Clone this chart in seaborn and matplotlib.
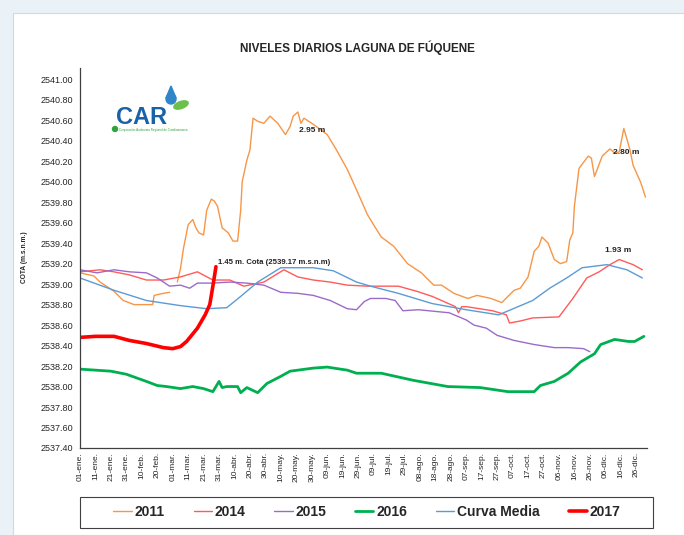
import numpy as np
import pandas as pd
import matplotlib
matplotlib.use("Agg")
import matplotlib.pyplot as plt
from matplotlib import font_manager
from matplotlib.lines import Line2D
from matplotlib.patches import Rectangle, Ellipse, Polygon
import seaborn as sns

# Data (day of year -> level in m.s.n.m.) =========================================
days_2011 = [0, 9, 13, 22, 28, 35, 41, 47, 48, 54, 58, 60, 63, 65, 67, 70, 73, 75, 77, 80,
             82, 85, 87, 89, 92, 96, 99, 102, 104, 105, 108, 110, 112, 115, 119, 123, 128,
             133, 136, 138, 141, 143, 145, 147, 151, 160, 166, 173, 179, 186, 190, 195, 203,
             212, 221, 229, 234, 242, 251, 257, 266, 273, 281, 285, 290, 294, 297, 299, 303,
             307, 311, 315, 317, 319, 320, 323, 329, 331, 333, 338, 343, 346, 349, 352, 356,
             358, 363, 366]
cota_2011 = [2539.11, 2539.08, 2539.02, 2538.93, 2538.84, 2538.80, 2538.80, 2538.80, 2538.89,
             2538.91, 2538.92, np.nan, 2539.02, 2539.15, 2539.35, 2539.58, 2539.63, 2539.55,
             2539.50, 2539.48, 2539.72, 2539.83, 2539.81, 2539.76, 2539.55, 2539.50, 2539.42,
             2539.42, 2539.72, 2540.00, 2540.21, 2540.31, 2540.62, 2540.59, 2540.57, 2540.64,
             2540.57, 2540.46, 2540.54, 2540.64, 2540.68, 2540.57, 2540.62, 2540.60, 2540.56,
             2540.46, 2540.31, 2540.12, 2539.92, 2539.68, 2539.58, 2539.46, 2539.37, 2539.20,
             2539.11, 2538.99, 2538.99, 2538.91, 2538.86, 2538.89, 2538.86, 2538.82, 2538.94,
             2538.96, 2539.07, 2539.32, 2539.37, 2539.46, 2539.40, 2539.24, 2539.20, 2539.22,
             2539.43, 2539.50, 2539.76, 2540.13, 2540.25, 2540.23, 2540.05, 2540.25, 2540.32,
             2540.28, 2540.29, 2540.52, 2540.31, 2540.16, 2539.99, 2539.85]

days_2014 = [0, 13, 22, 32, 43, 54, 65, 76, 86, 97, 106, 119, 132, 141, 151, 162, 173, 186,
             206, 218, 228, 243, 245, 247, 250, 267, 276, 278, 285, 293, 310, 319, 328, 336,
             343, 349, 358, 364]
cota_2014 = [2539.12, 2539.14, 2539.12, 2539.09, 2539.04, 2539.04, 2539.07, 2539.12, 2539.04,
             2539.04, 2538.98, 2539.02, 2539.14, 2539.07, 2539.04, 2539.02, 2538.99, 2538.98,
             2538.98, 2538.93, 2538.88, 2538.78, 2538.72, 2538.78, 2538.78, 2538.74, 2538.70,
             2538.62, 2538.64, 2538.67, 2538.68, 2538.86, 2539.06, 2539.12, 2539.19, 2539.24,
             2539.19, 2539.14]

days_2015 = [0, 11, 22, 32, 43, 50, 58, 65, 71, 76, 86, 97, 108, 119, 130, 141, 151, 162,
             173, 179, 184, 188, 198, 204, 209, 219, 239, 250, 255, 263, 270, 281, 294, 307,
             316, 326, 330]
cota_2015 = [2539.14, 2539.11, 2539.14, 2539.12, 2539.11, 2539.06, 2538.98, 2538.99, 2538.96,
             2539.01, 2539.01, 2539.02, 2539.01, 2538.99, 2538.92, 2538.91, 2538.89, 2538.84,
             2538.76, 2538.75, 2538.83, 2538.86, 2538.86, 2538.84, 2538.74, 2538.75, 2538.72,
             2538.65, 2538.60, 2538.57, 2538.50, 2538.45, 2538.41, 2538.38, 2538.38, 2538.37,
             2538.34]

days_2016 = [0, 10, 20, 30, 43, 50, 56, 65, 73, 80, 86, 90, 92, 95, 102, 104, 108, 115, 121,
             130, 136, 151, 160, 173, 179, 195, 216, 238, 259, 277, 294, 298, 307, 316, 324,
             333, 337, 346, 355, 359, 365]
cota_2016 = [2538.17, 2538.16, 2538.15, 2538.12, 2538.05, 2538.01, 2538.00, 2537.98, 2538.00,
             2537.98, 2537.95, 2538.05, 2537.99, 2538.00, 2538.00, 2537.94, 2537.99, 2537.94,
             2538.03, 2538.10, 2538.15, 2538.18, 2538.19, 2538.16, 2538.13, 2538.13, 2538.06,
             2538.00, 2537.99, 2537.95, 2537.95, 2538.01, 2538.05, 2538.13, 2538.24, 2538.32,
             2538.41, 2538.46, 2538.44, 2538.44, 2538.49]

days_media = [0, 22, 43, 65, 82, 95, 104, 115, 130, 151, 164, 179, 188, 206, 228, 250, 271,
              293, 304, 315, 325, 341, 354, 364]
cota_media = [2539.06, 2538.94, 2538.84, 2538.79, 2538.76, 2538.77, 2538.88, 2539.02, 2539.16,
              2539.16, 2539.13, 2539.02, 2538.98, 2538.91, 2538.81, 2538.75, 2538.70, 2538.84,
              2538.96, 2539.06, 2539.16, 2539.19, 2539.14, 2539.06]

days_2017 = [0, 10, 22, 32, 43, 54, 60, 65, 69, 76, 81, 84, 86, 88]
cota_2017 = [2538.48, 2538.49, 2538.49, 2538.45, 2538.42, 2538.38, 2538.37, 2538.39, 2538.44,
             2538.57, 2538.70, 2538.80, 2538.98, 2539.17]

tick_days = list(range(0, 361, 10))
tick_labels = ["01-ene.", "11-ene.", "21-ene.", "31-ene.", "10-feb.", "20-feb.", "01-mar.",
               "11-mar.", "21-mar.", "31-mar.", "10-abr.", "20-abr.", "30-abr.", "10-may.",
               "20-may.", "30-may.", "09-jun.", "19-jun.", "29-jun.", "09-jul.", "19-jul.",
               "29-jul.", "08-ago.", "18-ago.", "28-ago.", "07-sep.", "17-sep.", "27-sep.",
               "07-oct.", "17-oct.", "27-oct.", "06-nov.", "16-nov.", "26-nov.", "06-dic.",
               "16-dic.", "26-dic."]
y_ticks = [round(2537.4 + 0.2 * i, 2) for i in range(19)]

# series: name, days, values, colour, linewidth
series = [
    ("2011", days_2011, cota_2011, "#F79646", 1.0),
    ("2014", days_2014, cota_2014, "#FF5B5B", 1.0),
    ("2015", days_2015, cota_2015, "#9B6BC9", 1.0),
    ("2016", days_2016, cota_2016, "#00B050", 2.0),
    ("Curva Media", days_media, cota_media, "#5B9BD5", 1.0),
    ("2017", days_2017, cota_2017, "#FF0000", 2.6),
]

# Style ===========================================================================
sns.set_style("white")
avail = {f.name for f in font_manager.fontManager.ttflist}
narrow = "Liberation Sans Narrow" if "Liberation Sans Narrow" in avail else "Liberation Sans"
plt.rcParams["font.family"] = ["Liberation Sans", "DejaVu Sans"]

fig = plt.figure(figsize=(6.84, 5.35), dpi=100)
fig.patch.set_facecolor("#eaf2f7")
fig.add_artist(Rectangle((13 / 684, 0), 1, (535 - 13) / 535, transform=fig.transFigure,
                         facecolor="white", edgecolor="#d8d8d8", lw=0.8, zorder=-5))

ax = fig.add_axes([80 / 684, 1 - 448 / 535, (647 - 80) / 684, (448 - 68) / 535])
ax.set_facecolor("none")

for name, d, v, col, lw in series:
    df = pd.DataFrame({"dia": d, "cota": v})
    df["seg"] = df["cota"].isna().cumsum()
    df = df.dropna()
    sns.lineplot(data=df, x="dia", y="cota", units="seg", estimator=None, ax=ax,
                 color=col, linewidth=lw, sort=False)

ax.set_xlim(0, 367)
ax.set_ylim(2537.4, 2541.11)
ax.set_xlabel("")
ax.set_ylabel("")
ax.set_xticks(tick_days)
ax.set_xticklabels(tick_labels, rotation=90, fontsize=6, family=narrow)
ax.set_xticks(list(range(0, 361, 40)), minor=True)
ax.tick_params(axis="x", which="major", length=0, pad=3)
ax.tick_params(axis="x", which="minor", length=4, width=0.8, direction="out", color="#404040")
ax.set_yticks(y_ticks)
ax.set_yticklabels([f"{t:.2f}" for t in y_ticks], fontsize=6.5, family=narrow)
ax.tick_params(axis="y", length=3, width=0.8, direction="out", color="#404040", pad=2)
sns.despine(ax=ax)
for s in ("left", "bottom"):
    ax.spines[s].set_color("#404040")
    ax.spines[s].set_linewidth(0.9)

# Overlay in pixel coordinates for title, labels, logo and legend box
ov = fig.add_axes([0, 0, 1, 1], zorder=5)
ov.set_xlim(0, 684)
ov.set_ylim(535, 0)
ov.axis("off")
ov.patch.set_alpha(0)

ov.text(357, 48, "NIVELES DIARIOS LAGUNA DE FÚQUENE", ha="center", va="center",
        fontsize=8.5, fontweight="bold")
ov.text(25, 257, "COTA (m.s.n.m.)", rotation=90, ha="center", va="center",
        fontsize=4.8, fontweight="bold")

ann = dict(fontsize=6, fontweight="bold", color="#222222", va="center")
ov.text(299, 131, "2.95 m", **ann)
ov.text(613, 152, "2.80 m", **ann)
ov.text(605, 251, "1.93 m", **ann)
ov.text(218, 262, "1.45 m. Cota (2539.17 m.s.n.m)", fontsize=5.6, fontweight="bold",
        color="#222222", va="center")

# CAR logo
ov.text(116, 124, "CAR", fontsize=17, fontweight="bold", color="#1862AA", va="baseline")
ov.add_patch(Polygon([(171, 86), (166, 98), (176, 98)], closed=True, color="#2E86C8"))
ov.add_patch(Ellipse((171, 99), 10, 10, color="#2E86C8"))
ov.add_patch(Ellipse((181, 105), 15, 7, angle=-20, color="#6CC04A"))
ov.add_patch(Ellipse((115, 129), 5, 5, color="#2FA33E"))
ov.text(119, 129.5, "Corporación Autónoma Regional de Cundinamarca", fontsize=2.2,
        color="#2FA33E", va="center")

# Legend
ov.add_patch(Rectangle((80, 497), 573, 31, facecolor="white", edgecolor="#404040", lw=0.8))
handles = [Line2D([0], [0], color=c, lw=lw) for _, _, _, c, lw in series]
labels = [n for n, *_ in series]
leg = fig.legend(handles, labels, loc="center", bbox_to_anchor=(367 / 684, 1 - 512 / 535),
                 ncol=6, frameon=False, prop={"weight": "bold", "size": 10},
                 handlelength=1.3, handletextpad=0.2, columnspacing=2.1)
leg.set_zorder(10)

fig.savefig("out.png", dpi=100)
